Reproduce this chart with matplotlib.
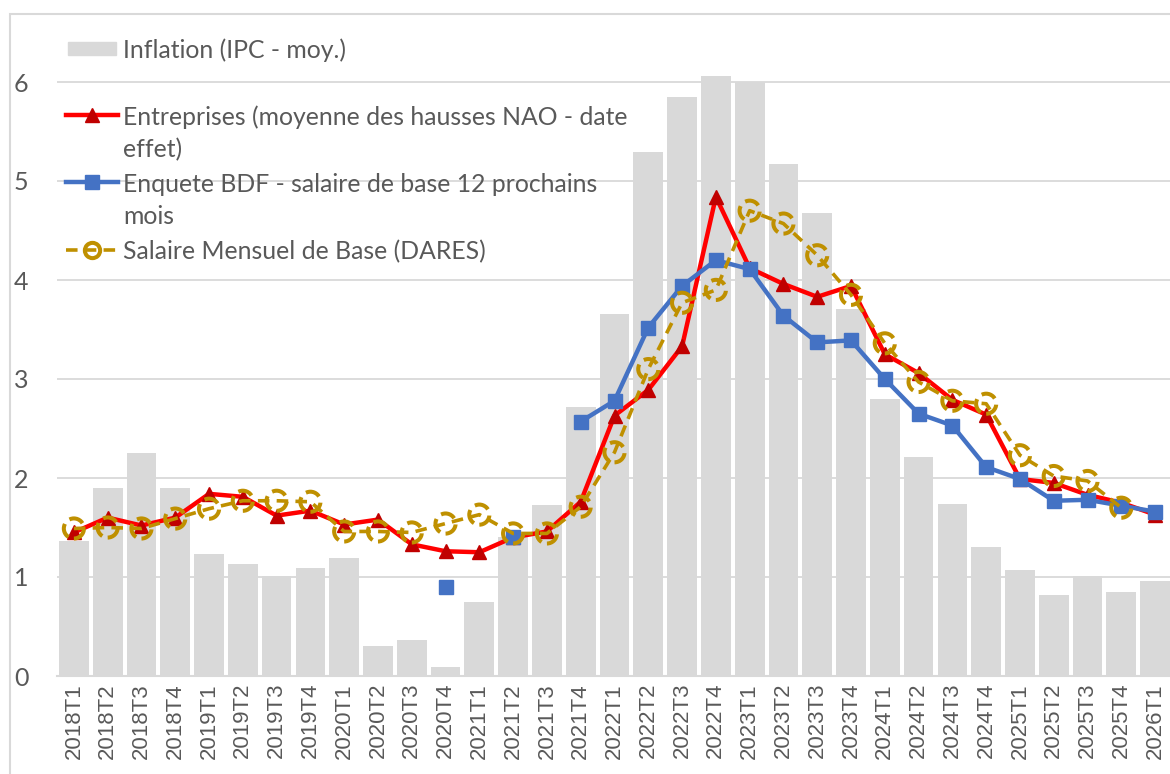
import numpy as np
import matplotlib
matplotlib.use("Agg")
from matplotlib import pyplot as plt
from matplotlib.lines import Line2D
from matplotlib.patches import Rectangle

nan = np.nan

quarters = ["2018T1", "2018T2", "2018T3", "2018T4",
            "2019T1", "2019T2", "2019T3", "2019T4",
            "2020T1", "2020T2", "2020T3", "2020T4",
            "2021T1", "2021T2", "2021T3", "2021T4",
            "2022T1", "2022T2", "2022T3", "2022T4",
            "2023T1", "2023T2", "2023T3", "2023T4",
            "2024T1", "2024T2", "2024T3", "2024T4",
            "2025T1", "2025T2", "2025T3", "2025T4",
            "2026T1"]

inflation = [1.36, 1.90, 2.25, 1.90, 1.23, 1.13, 1.01, 1.09,
             1.19, 0.30, 0.36, 0.09, 0.75, 1.40, 1.73, 2.72,
             3.66, 5.29, 5.85, 6.06, 6.00, 5.17, 4.68, 3.71,
             2.80, 2.21, 1.74, 1.30, 1.07, 0.82, 1.01, 0.85,
             0.96]

entreprises = [1.45, 1.60, 1.52, 1.60, 1.84, 1.81, 1.62, 1.67,
               1.53, 1.58, 1.33, 1.26, 1.25, 1.40, 1.46, 1.76,
               2.63, 2.89, 3.33, 4.84, 4.12, 3.96, 3.83, 3.94,
               3.25, 3.06, 2.79, 2.64, 1.99, 1.95, 1.83, 1.75,
               1.63]

enquete_bdf = [nan, nan, nan, nan, nan, nan, nan, nan,
               nan, nan, nan, 0.90, nan, 1.40, nan, 2.57,
               2.78, 3.52, 3.94, 4.20, 4.11, 3.64, 3.37, 3.39,
               3.00, 2.65, 2.53, 2.11, 1.99, 1.77, 1.78, 1.72,
               1.66]

smb_dares = [1.49, 1.50, 1.49, 1.59, 1.69, 1.77, 1.77, 1.76,
             1.46, 1.46, 1.45, 1.54, 1.63, 1.44, 1.44, 1.71,
             2.26, 3.10, 3.77, 3.90, 4.70, 4.57, 4.25, 3.85,
             3.36, 2.97, 2.78, 2.75, 2.23, 2.02, 1.97, 1.70,
             nan]

labels = ["Inflation (IPC - moy.)",
          "Entreprises (moyenne des hausses NAO - date\neffet)",
          "Enquete BDF - salaire de base 12 prochains\nmois",
          "Salaire Mensuel de Base (DARES)"]

GRID = "#d9d9d9"
TXT = "#595959"
RED = "#ff0000"
DRED = "#c00000"
BLUE = "#4472c4"
GOLD = "#bf9000"
FONT = ["Lato", "DejaVu Sans"]

W, H = 1170, 774
fig = plt.figure(figsize=(W / 100, H / 100), dpi=100)


def fx(px):
    return px / W


def fy(py):
    return 1 - py / H


# chart area border (cut off at right / bottom)
fig.add_artist(Rectangle((fx(10), fy(800)), fx(1200), fy(14) - fy(800),
                         transform=fig.transFigure, fill=False,
                         edgecolor=GRID, linewidth=1.5))

ax = fig.add_axes([fx(57), fy(676), fx(1172) - fx(57), fy(14) - fy(676)])
x = np.arange(len(quarters))

ax.bar(x, inflation, width=0.88, color=GRID, zorder=1)
ax.plot(x, entreprises, color=RED, linewidth=3.2, marker="^",
        markersize=10, markerfacecolor=DRED, markeredgecolor=DRED, zorder=3)
ax.plot(x, enquete_bdf, color=BLUE, linewidth=3.2, marker="s",
        markersize=9.5, markerfacecolor=BLUE, markeredgecolor=BLUE, zorder=4)
ax.plot(x, smb_dares, color=GOLD, linewidth=2.6, linestyle=(0, (3.2, 2.0)),
        zorder=5)
ax.scatter(x, smb_dares, s=210, facecolors="none", edgecolors=GOLD,
           linewidths=2.9, linestyles="--", zorder=6)

ax.set_xlim(-0.5, len(quarters) - 0.5)
ax.set_ylim(0, 662 / 99)
ax.set_yticks(range(0, 7))
ax.yaxis.grid(True, color=GRID, linewidth=1.3, zorder=0)
ax.set_axisbelow(True)
for s in ["top", "right", "left"]:
    ax.spines[s].set_visible(False)
ax.spines["bottom"].set_color(GRID)
ax.spines["bottom"].set_linewidth(1.5)
ax.tick_params(axis="both", length=0)

ax.set_xticks(x)
ax.set_xticklabels(quarters, rotation=90, fontsize=16,
                   family=["Liberation Sans", "DejaVu Sans"], color=TXT)
ax.tick_params(axis="x", pad=5)
ax.set_yticklabels([str(v) for v in range(0, 7)], fontsize=18, family=FONT,
                   color=TXT, ha="left")
ax.tick_params(axis="y", pad=31)

# legend drawn by hand (Excel style, handle aligned to first line)
leg_y = [48, 115, 182, 250]
fig.add_artist(Rectangle((fx(68), fy(55)), fx(116) - fx(68), fy(42) - fy(55),
                         transform=fig.transFigure, color=GRID))
fig.add_artist(Line2D([fx(66), fx(118)], [fy(leg_y[1])] * 2, color=RED,
                      linewidth=3.2, transform=fig.transFigure))
fig.add_artist(Line2D([fx(92)], [fy(leg_y[1])], marker="^", markersize=10,
                      color=DRED, transform=fig.transFigure))
fig.add_artist(Line2D([fx(66), fx(118)], [fy(leg_y[2])] * 2, color=BLUE,
                      linewidth=3.2, transform=fig.transFigure))
fig.add_artist(Line2D([fx(92)], [fy(leg_y[2])], marker="s", markersize=9.5,
                      color=BLUE, transform=fig.transFigure))
fig.add_artist(Line2D([fx(66), fx(118)], [fy(leg_y[3])] * 2, color=GOLD,
                      linewidth=2.6, linestyle=(0, (3.2, 2.0)),
                      transform=fig.transFigure))
fig.add_artist(Line2D([fx(92)], [fy(leg_y[3])], marker="o", markersize=11,
                      markerfacecolor="none", markeredgecolor=GOLD,
                      markeredgewidth=2.9, transform=fig.transFigure))
for lab, ly in zip(labels, leg_y):
    for k, line in enumerate(lab.split("\n")):
        fig.text(fx(123), fy(ly + 33 * k), line, fontsize=17.8, family=FONT,
                 color=TXT, ha="left", va="center_baseline")

fig.savefig("out.png", dpi=100)
